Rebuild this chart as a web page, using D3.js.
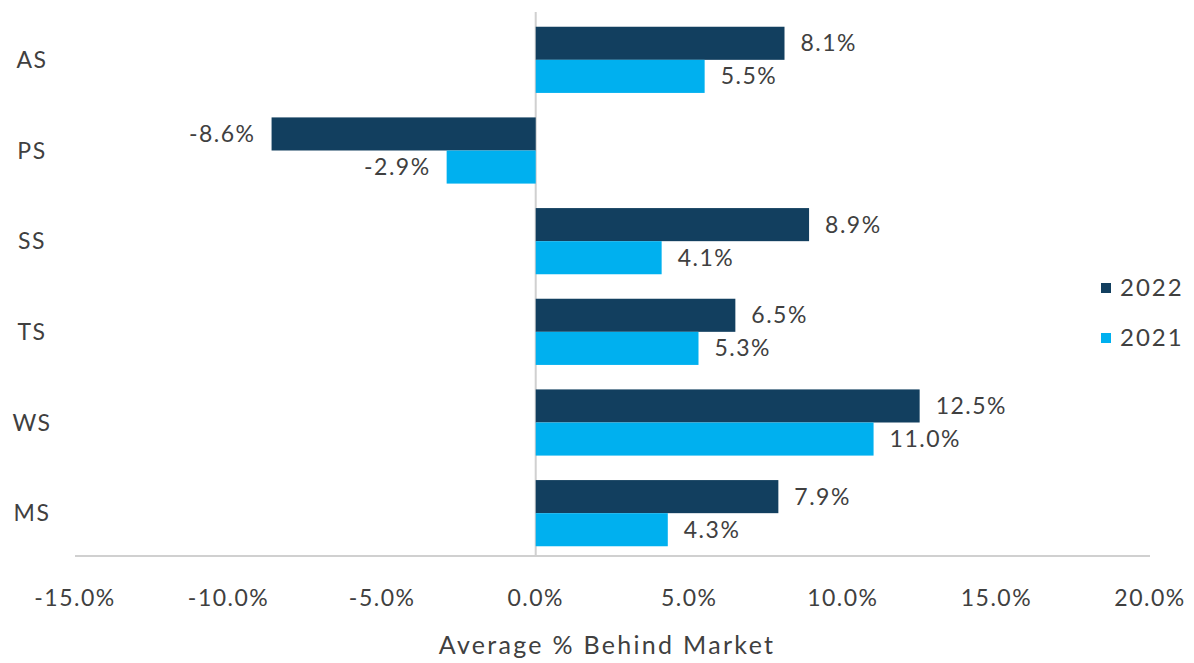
<!DOCTYPE html>
<html>
<head>
<meta charset="utf-8">
<script src="https://cdn.jsdelivr.net/npm/d3@7"></script>
<style>
  body { margin: 0; background: #fff; }
  svg { display: block; font-family: 'Lato', 'DejaVu Sans', sans-serif; }
  .tick-label, .lbl, .cat, .leg, .title { fill: #404040; }
</style>
</head>
<body>
<svg id="chart" width="1194" height="663"></svg>
<script>
const categories = ['AS', 'PS', 'SS', 'TS', 'WS', 'MS']
const series = ['2022', '2021']
const values2022 = [8.1, -8.6, 8.9, 6.5, 12.5, 7.9]
const values2021 = [5.5, -2.9, 4.1, 5.3, 11.0, 4.3]
const tickValues = [-15, -10, -5, 0, 5, 10, 15, 20]
const colors = { 2022: '#123F5F', 2021: '#00B0EF' }

const data = categories.map((c, i) => ({
  cat: c,
  vals: [{ key: '2022', v: values2022[i] }, { key: '2021', v: values2021[i] }]
}))

const svg = d3.select('#chart')

const x = d3.scaleLinear().domain([-15, 20]).range([75, 1150])
const y = d3.scaleBand().domain(categories).range([14.5, 558.5])
const y1 = d3.scaleBand().domain(series).range([0, y.bandwidth()]).paddingOuter(0.37)

// axis lines
svg.append('line')
    .attr('x1', x(-15)).attr('x2', x(20))
    .attr('y1', 556).attr('y2', 556)
    .attr('stroke', '#d0d0d0').attr('stroke-width', 2)

svg.append('line')
    .attr('x1', x(0)).attr('x2', x(0))
    .attr('y1', 12).attr('y2', 556)
    .attr('stroke', '#d0d0d0').attr('stroke-width', 2)

svg.selectAll('.tick-label')
    .data(tickValues)
  .enter().append('text')
    .attr('class', 'tick-label')
    .attr('x', d => x(d))
    .attr('y', 598)
    .attr('dy', '0.35em')
    .attr('text-anchor', 'middle')
    .style('font-size', '23px')
    .style('letter-spacing', '1.5px')
    .text(d => d.toFixed(1) + '%')

svg.selectAll('.cat')
    .data(categories)
  .enter().append('text')
    .attr('class', 'cat')
    .attr('x', 32)
    .attr('y', d => y(d) + y.bandwidth() / 2)
    .attr('dy', '0.35em')
    .attr('text-anchor', 'middle')
    .style('font-size', '23px')
    .style('letter-spacing', '1.5px')
    .text(d => d)

const groups = svg.selectAll('.grp')
    .data(data)
  .enter().append('g')
    .attr('class', 'grp')
    .attr('transform', d => `translate(0,${y(d.cat)})`)

groups.selectAll('rect')
    .data(d => d.vals)
  .enter().append('rect')
    .attr('x', d => x(Math.min(0, d.v)))
    .attr('y', d => y1(d.key))
    .attr('width', d => Math.abs(x(d.v) - x(0)))
    .attr('height', y1.bandwidth())
    .attr('fill', d => colors[d.key])

groups.selectAll('.lbl')
    .data(d => d.vals)
  .enter().append('text')
    .attr('class', 'lbl')
    .attr('x', d => d.v >= 0 ? x(d.v) + 16 : x(d.v) - 16)
    .attr('y', d => y1(d.key) + y1.bandwidth() / 2)
    .attr('dy', '0.35em')
    .attr('text-anchor', d => d.v >= 0 ? 'start' : 'end')
    .style('font-size', '23px')
    .style('letter-spacing', '1.5px')
    .text(d => d.v.toFixed(1) + '%')

// legend
const legend = svg.selectAll('.leg')
    .data(series)
  .enter().append('g')
    .attr('class', 'leg')
    .attr('transform', (d, i) => `translate(1101,${288 + i * 50})`)

legend.append('rect')
    .attr('x', 0).attr('y', -5)
    .attr('width', 10).attr('height', 10)
    .attr('fill', d => colors[d])

legend.append('text')
    .attr('x', 19)
    .attr('dy', '0.35em')
    .style('font-size', '24px')
    .style('letter-spacing', '2px')
    .text(d => d)

svg.append('text')
    .attr('class', 'title')
    .attr('x', 607)
    .attr('y', 645)
    .attr('dy', '0.35em')
    .attr('text-anchor', 'middle')
    .style('font-size', '25px')
    .style('letter-spacing', '2.3px')
    .text('Average % Behind Market')
</script>
</body>
</html>
